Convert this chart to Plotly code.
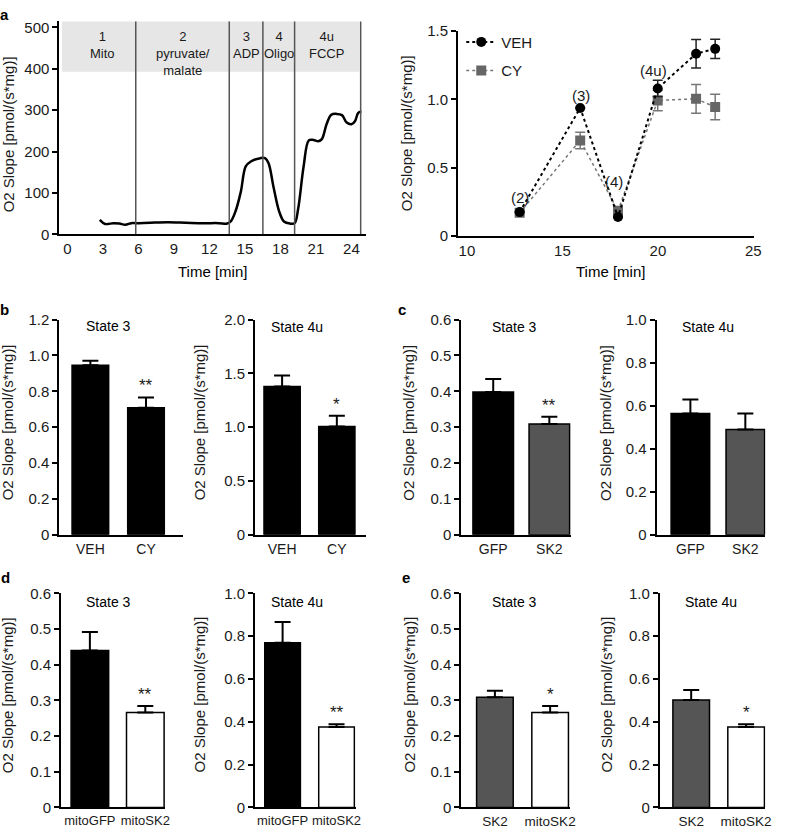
import plotly.graph_objects as go

W, H = 785, 836

# ---------------- DATA ----------------
# Panel a (left): oxygraph O2 slope trace
trace_time = [2.74, 3.2, 3.9, 4.4, 4.9, 5.4, 5.8, 7.0, 8.5, 10.0, 11.5, 12.8, 13.5, 13.8, 14.2, 14.65,
              15.07, 15.5, 16.3, 16.7, 17.0, 17.4, 17.9, 18.3, 18.8, 19.2, 19.5, 19.96, 20.4, 20.8,
              21.2, 21.5, 21.9, 22.3, 22.75, 23.2, 23.6, 24.0, 24.3, 24.56, 24.84]
trace_o2 = [35, 25, 27, 26, 23, 27, 27, 28, 29, 28, 27, 27, 26, 31, 55, 102,
            164, 176, 184, 184, 172, 117, 55, 31, 26, 27, 62, 164, 227, 228,
            225, 230, 266, 289, 291, 288, 270, 266, 273, 293, 297]
event_times = [5.78, 13.68, 16.52, 19.2, 24.78]
event_labels = ["1<br>Mito", "2<br>pyruvate/<br>malate", "3<br>ADP", "4<br>Oligo", "4u<br>FCCP"]
event_label_t = [2.93, 9.77, 15.1, 17.86, 21.9]
a_left_xticks = [0, 3, 6, 9, 12, 15, 18, 21, 24]
a_left_yticks = [0, 100, 200, 300, 400, 500]

# Panel a (right): time course VEH vs CY
time_pts = [12.76, 15.93, 17.91, 19.99, 22.0, 23.0]
veh_mean = [0.175, 0.938, 0.139, 1.081, 1.335, 1.371]
veh_err = [0.0, 0.0, 0.0, 0.06, 0.104, 0.07]
cy_mean = [0.17, 0.70, 0.184, 0.993, 1.005, 0.945]
cy_err = [0.0, 0.06, 0.0, 0.075, 0.105, 0.093]
state_labels = ["(2)", "(3)", "(4)", "(4u)"]
state_label_t = [12.76, 15.96, 17.7, 19.76]
state_label_v = [0.28, 1.03, 0.40, 1.21]
a_right_xticks = [10, 15, 20, 25]
a_right_yticks = [0, 0.5, 1.0, 1.5]
a_right_yticktext = ["0", "0.5", "1.0", "1.5"]

# Bar panels
groups_b = ["VEH", "CY"]
b_state3 = [0.945, 0.708]
b_state3_err = [0.025, 0.058]
b_state4u = [1.379, 1.006]
b_state4u_err = [0.10, 0.10]

groups_c = ["GFP", "SK2"]
c_state3 = [0.398, 0.309]
c_state3_err = [0.036, 0.02]
c_state4u = [0.564, 0.489]
c_state4u_err = [0.065, 0.075]

groups_d = ["mitoGFP", "mitoSK2"]
d_state3 = [0.44, 0.266]
d_state3_err = [0.052, 0.018]
d_state4u = [0.769, 0.376]
d_state4u_err = [0.097, 0.012]

groups_e = ["SK2", "mitoSK2"]
e_state3 = [0.309, 0.266]
e_state3_err = [0.018, 0.018]
e_state4u = [0.502, 0.376]
e_state4u_err = [0.046, 0.012]

ticks_06 = [0, 0.1, 0.2, 0.3, 0.4, 0.5, 0.6]
ticks_06_text = ["0", "0.1", "0.2", "0.3", "0.4", "0.5", "0.6"]
ticks_10 = [0, 0.2, 0.4, 0.6, 0.8, 1.0]
ticks_10_text = ["0", "0.2", "0.4", "0.6", "0.8", "1.0"]
ticks_12 = [0, 0.2, 0.4, 0.6, 0.8, 1.0, 1.2]
ticks_12_text = ["0", "0.2", "0.4", "0.6", "0.8", "1.0", "1.2"]
ticks_20 = [0, 0.5, 1.0, 1.5, 2.0]
ticks_20_text = ["0", "0.5", "1.0", "1.5", "2.0"]

YTITLE = "O2 Slope [pmol/(s*mg)]"
FONT = "Liberation Sans, Arial, sans-serif"
TXT = "#1a1a1a"

# ---------------- HELPERS ----------------
def fx(x):
    return x / W


def fy(y):
    return 1 - y / H


fig = go.Figure()
layout = dict(
    width=W, height=H, margin=dict(l=0, r=0, t=0, b=0),
    paper_bgcolor="white", plot_bgcolor="white",
    font=dict(family=FONT, size=15, color=TXT),
    showlegend=True,
)
annotations = []
shapes = []


def axis_keys(n):
    return ("xaxis" if n == 1 else f"xaxis{n}", "yaxis" if n == 1 else f"yaxis{n}",
            "x" if n == 1 else f"x{n}", "y" if n == 1 else f"y{n}")


def set_axes(n, x0, x1, ytop, ybot, xrange, yrange, xtickvals, xticktext, ytickvals, yticktext,
             xticklen=0, xfont=15):
    xk, yk, xr, yr = axis_keys(n)
    layout[xk] = dict(domain=[fx(x0), fx(x1)], range=xrange, anchor=yr, showline=True,
                      linecolor="black", linewidth=2, showgrid=False, zeroline=False,
                      tickmode="array", tickvals=xtickvals, ticktext=xticktext, tickangle=0,
                      ticks="outside" if xticklen else "", ticklen=xticklen,
                      tickcolor="rgba(0,0,0,0)", tickfont=dict(size=xfont, color=TXT))
    layout[yk] = dict(domain=[fy(ybot), fy(ytop)], range=yrange, anchor=xr, showline=True,
                      linecolor="black", linewidth=2, showgrid=False, zeroline=False,
                      tickmode="array", tickvals=ytickvals, ticktext=yticktext,
                      ticks="outside", ticklen=5, tickwidth=1.5, tickcolor="black",
                      tickfont=dict(size=15, color=TXT))
    return xr, yr


def ytitle(xp, yp):
    annotations.append(dict(text=YTITLE, x=fx(xp), y=fy(yp), xref="paper", yref="paper",
                            textangle=-90, showarrow=False, xanchor="center", yanchor="middle",
                            font=dict(size=15, color=TXT)))


def paper_text(text, xp, yp, size=15, bold=False, xanchor="center"):
    annotations.append(dict(text=f"<b>{text}</b>" if bold else text, x=fx(xp), y=fy(yp),
                            xref="paper", yref="paper", showarrow=False, xanchor=xanchor,
                            yanchor="middle", font=dict(size=size, color="black")))


# ---------------- PANEL a (left) ----------------
xr, yr = set_axes(1, 60, 370, 12, 230, [-0.67, 25.25], [0, 516],
                  a_left_xticks, [str(v) for v in a_left_xticks],
                  a_left_yticks, [str(v) for v in a_left_yticks], xticklen=0)
shapes.append(dict(type="rect", xref=xr, yref=yr, x0=-0.45, x1=event_times[-1] - 0.1, y0=393, y1=514,
                   fillcolor="#e6e6e6", line=dict(width=0), layer="below"))
for t in event_times:
    shapes.append(dict(type="line", xref=xr, yref=yr, x0=t, x1=t, y0=0, y1=514,
                       line=dict(color="#555", width=1.5)))
for t, lab in zip(event_label_t, event_labels):
    annotations.append(dict(text=lab, x=t, y=501, xref=xr, yref=yr, showarrow=False, align="center",
                            xanchor="center", yanchor="top", font=dict(size=13, color=TXT)))
fig.add_trace(go.Scatter(x=trace_time, y=trace_o2, mode="lines", line=dict(color="black", width=2.5, shape="spline"),
                         xaxis=xr, yaxis=yr, showlegend=False))
ytitle(8, 128)
paper_text("Time [min]", 215, 268, size=15)
paper_text("a", 5, 6, size=15, bold=True)

# ---------------- PANEL a (right) ----------------
xr, yr = set_axes(2, 462.7, 761.7, 22.7, 231.7, [9.53, 25.03], [0, 1.5],
                  a_right_xticks, [str(v) for v in a_right_xticks],
                  a_right_yticks, a_right_yticktext, xticklen=0)
fig.add_trace(go.Scatter(x=time_pts, y=cy_mean, mode="lines+markers", name="CY",
                         line=dict(color="#777", width=1.5, dash="dot"),
                         marker=dict(symbol="square", size=10, color="#666"),
                         error_y=dict(type="data", array=cy_err, color="#777", thickness=1.5, width=5),
                         xaxis=xr, yaxis=yr, legendgroup="cy", legendrank=2))
fig.add_trace(go.Scatter(x=time_pts, y=veh_mean, mode="lines+markers", name="VEH",
                         line=dict(color="black", width=2, dash="dot"),
                         marker=dict(symbol="circle", size=10, color="black"),
                         error_y=dict(type="data", array=veh_err, color="#222", thickness=1.5, width=5),
                         xaxis=xr, yaxis=yr, legendgroup="veh", legendrank=1))
for lab, t, v in zip(state_labels, state_label_t, state_label_v):
    annotations.append(dict(text=lab, x=t, y=v, xref=xr, yref=yr, showarrow=False,
                            xanchor="center", yanchor="middle", font=dict(size=15, color=TXT)))
ytitle(411, 127)
paper_text("Time [min]", 617, 268, size=15)
layout["legend"] = dict(x=fx(466), y=fy(17), xanchor="left", yanchor="top", bgcolor="rgba(0,0,0,0)",
                        font=dict(size=15, color=TXT), tracegroupgap=6, itemwidth=30)

# ---------------- BAR PANELS ----------------
bar_panels = [
    dict(n=3, groups=groups_b, vals=b_state3, errs=b_state3_err, colors=["black", "black"], sig="**",
         yr=[0, 1.2], yt=ticks_12, ytt=ticks_12_text, geom=(60, 185, 91.3, 147.5, 37, 317, 536.7),
         title="State 3", title_xy=(110, 324), ytitle_xy=(7, 422), xfont=14),
    dict(n=4, groups=groups_b, vals=b_state4u, errs=b_state4u_err, colors=["black", "black"], sig="*",
         yr=[0, 2.0], yt=ticks_20, ytt=ticks_20_text, geom=(257.7, 370, 285, 340.3, 36.6, 317, 536.7),
         title="State 4u", title_xy=(300, 325), ytitle_xy=(201, 422), xfont=14),
    dict(n=5, groups=groups_c, vals=c_state3, errs=c_state3_err, colors=["black", "#555"], sig="**",
         yr=[0, 0.6], yt=ticks_06, ytt=ticks_06_text, geom=(466, 576.7, 498.3, 555, 41, 317, 536.7),
         title="State 3", title_xy=(520, 325), ytitle_xy=(412.5, 422), xfont=14),
    dict(n=6, groups=groups_c, vals=c_state4u, errs=c_state4u_err, colors=["black", "#555"], sig="",
         yr=[0, 1.0], yt=ticks_10, ytt=ticks_10_text, geom=(663.3, 773.3, 697.5, 753, 39, 317, 536.7),
         title="State 4u", title_xy=(715, 325), ytitle_xy=(611.7, 422), xfont=14),
    dict(n=7, groups=groups_d, vals=d_state3, errs=d_state3_err, colors=["black", "white"], sig="**",
         yr=[0, 0.6], yt=ticks_06, ytt=ticks_06_text, geom=(61.7, 166.7, 90.8, 146.8, 38, 596.5, 815),
         title="State 3", title_xy=(110, 605), ytitle_xy=(7.5, 700), xfont=13),
    dict(n=8, groups=groups_d, vals=d_state4u, errs=d_state4u_err, colors=["black", "white"], sig="**",
         yr=[0, 1.0], yt=ticks_10, ytt=ticks_10_text, geom=(257.7, 359.3, 285.5, 340, 36, 596.5, 815),
         title="State 4u", title_xy=(300, 605), ytitle_xy=(201.7, 700), xfont=13),
    dict(n=9, groups=groups_e, vals=e_state3, errs=e_state3_err, colors=["#555", "white"], sig="*",
         yr=[0, 0.6], yt=ticks_06, ytt=ticks_06_text, geom=(466, 576, 500, 555.8, 37, 596.5, 815),
         title="State 3", title_xy=(520, 605), ytitle_xy=(414, 700), xfont=13.5),
    dict(n=10, groups=groups_e, vals=e_state4u, errs=e_state4u_err, colors=["#555", "white"], sig="*",
         yr=[0, 1.0], yt=ticks_10, ytt=ticks_10_text, geom=(666.7, 773.3, 698.3, 753.8, 37, 596.5, 815),
         title="State 4u", title_xy=(718, 605), ytitle_xy=(613, 700), xfont=13.5),
]

for p in bar_panels:
    left, right, c0, c1, bw, ytop, ybot = p["geom"]
    unit = c1 - c0
    xrange = [(left - c0) / unit, (right - c0) / unit]
    xr, yr = set_axes(p["n"], left, right, ytop, ybot, xrange, p["yr"], [0, 1], p["groups"],
                      p["yt"], p["ytt"], xticklen=0, xfont=p["xfont"])
    fig.add_trace(go.Bar(x=[0, 1], y=p["vals"], width=bw / unit,
                         marker=dict(color=p["colors"], line=dict(color="black", width=1.5)),
                         error_y=dict(type="data", symmetric=False, array=p["errs"], arrayminus=[0, 0],
                                      color="black", thickness=2, width=8),
                         xaxis=xr, yaxis=yr, showlegend=False))
    if p["sig"]:
        annotations.append(dict(text=p["sig"], x=1, y=p["vals"][1] + p["errs"][1], xref=xr, yref=yr,
                                showarrow=False, xanchor="center", yanchor="bottom", yshift=0,
                                font=dict(size=17, color=TXT)))
    paper_text(p["title"], p["title_xy"][0], p["title_xy"][1], size=14)
    ytitle(*p["ytitle_xy"])

paper_text("b", 5, 307, size=15, bold=True)
paper_text("c", 406, 307, size=15, bold=True)
paper_text("d", 6, 580, size=15, bold=True)
paper_text("e", 410, 580, size=15, bold=True)

layout["annotations"] = annotations
layout["shapes"] = shapes
fig.update_layout(**layout)
fig.write_html("out.html", config={"displayModeBar": False},
               post_script="document.body.style.margin='0';document.body.style.padding='0';")
